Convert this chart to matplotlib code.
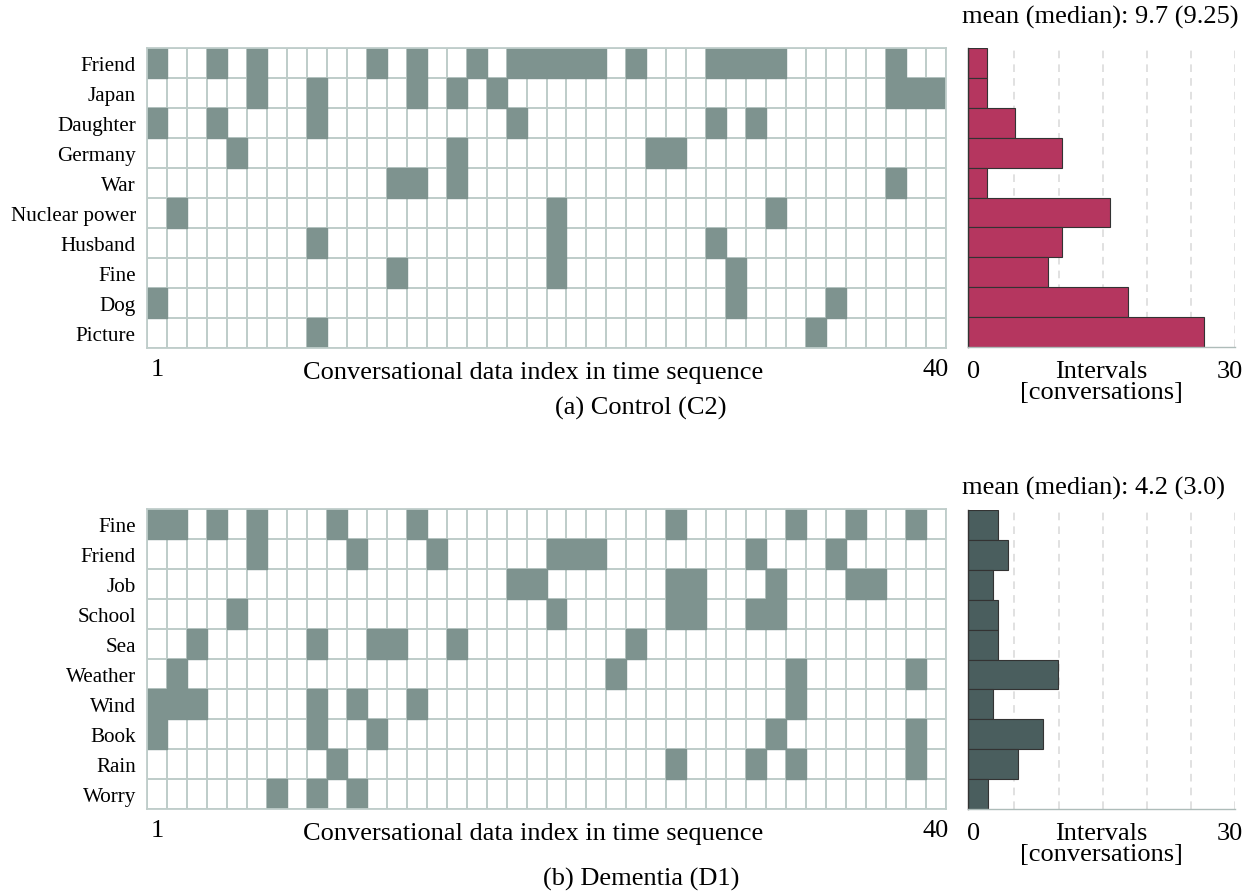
import numpy as np
import matplotlib
matplotlib.use("Agg")
import matplotlib.pyplot as plt
from matplotlib.colors import ListedColormap

plt.rcParams["font.family"] = ["Liberation Serif", "DejaVu Serif"]

# --------------------------
# Data (conversation indices where each topic appears)
# --------------------------

control_topics = ["Friend", "Japan", "Daughter", "Germany", "War",
                  "Nuclear power", "Husband", "Fine", "Dog", "Picture"]

control_events = [
    [1, 4, 6, 12, 14, 17, 19, 20, 21, 22, 23, 25, 29, 30, 31, 32, 38],
    [6, 9, 14, 16, 18, 38, 39, 40],
    [1, 4, 9, 19, 29, 31],
    [5, 16, 26, 27],
    [13, 14, 16, 38],
    [2, 21, 32],
    [9, 21, 29],
    [13, 21, 30],
    [1, 30, 35],
    [9, 34],
]

control_intervals = [2, 2, 5, 10, 2, 15, 10, 8.5, 17, 25]
control_stats = "mean (median): 9.7 (9.25)"

dementia_topics = ["Fine", "Friend", "Job", "School", "Sea",
                   "Weather", "Wind", "Book", "Rain", "Worry"]

dementia_events = [
    [1, 2, 4, 6, 10, 14, 27, 33, 36, 39],
    [6, 11, 15, 21, 22, 23, 31, 35],
    [19, 20, 27, 28, 32, 36, 37],
    [5, 21, 27, 28, 31, 32],
    [3, 9, 12, 13, 16, 25],
    [2, 24, 33, 39],
    [1, 2, 3, 9, 11, 14, 33],
    [1, 9, 12, 32, 39],
    [10, 27, 31, 33, 39],
    [7, 9, 11],
]

dementia_intervals = [3, 4, 2.5, 3, 3, 9, 2.5, 7.5, 5, 2]
dementia_stats = "mean (median): 4.2 (3.0)"

n_conv = 40

W, H = 1254, 895

cell_color = "#7e938f"
line_color = "#bfcdca"
fs = 19


def fig_rect(x0, y0, x1, y1):
    return [x0 / W, 1 - y1 / H, (x1 - x0) / W, (y1 - y0) / H]


def draw_grid(ax, topics, events, caption, cap_y):

    xs = np.arange(n_conv + 1)
    ys = np.arange(len(topics) + 1)

    # empty grid
    ax.pcolormesh(
        xs, ys, np.zeros((len(topics), n_conv)),
        cmap=ListedColormap(["white"]),
        edgecolors=line_color,
        linewidth=1.3
    )

    # filled cells (edges in same colour so neighbours merge)
    for r, ev in enumerate(events):
        ax.bar(
            np.array(ev) - 0.5,
            1.0,
            bottom=r,
            width=1.0,
            color=cell_color,
            edgecolor=cell_color,
            linewidth=1.0,
            zorder=3
        )

    ax.set_xlim(0, n_conv)
    ax.set_ylim(len(topics), 0)

    ax.set_yticks(np.arange(len(topics)) + 0.5)
    ax.set_yticklabels(topics, fontsize=15.2)
    ax.tick_params(axis="y", length=0, pad=8)

    ax.set_xticks([0.5, n_conv - 0.5])
    ax.set_xticklabels(["1", str(n_conv)], fontsize=fs)
    ax.tick_params(axis="x", length=0, pad=7)

    for s in ax.spines.values():
        s.set_color(line_color)
        s.set_linewidth(1.3)
        s.set_zorder(4)

    ax.text(0.483, -0.08, "Conversational data index in time sequence",
            transform=ax.transAxes, ha="center", va="center",
            fontsize=fs)

    fig.text(641 / W, 1 - cap_y / H, caption,
             ha="center", va="center", fontsize=fs)


def draw_hist(ax, values, color, stats, stats_y, xmax):

    y = np.arange(len(values)) + 0.5

    for gx in [0.174, 0.339, 0.504, 0.669, 0.834, 1.0]:
        ax.axvline(gx * xmax, color="#d9d9d9", linestyle=(0, (5, 4)),
                   linewidth=1.1, zorder=0)

    ax.barh(
        y,
        values,
        height=1.0,
        color=color,
        edgecolor="#333333",
        linewidth=0.8,
        zorder=2
    )

    ax.set_xlim(0, xmax)
    ax.set_ylim(len(values), 0)
    ax.set_xticks([])
    ax.set_yticks([])

    ax.spines["top"].set_visible(False)
    ax.spines["right"].set_visible(False)
    ax.spines["left"].set_color("#333333")
    ax.spines["left"].set_linewidth(1.0)
    ax.spines["bottom"].set_color("#aebcb9")
    ax.spines["bottom"].set_linewidth(1.0)

    ax.text(0.022, -0.08, "0", transform=ax.transAxes,
            ha="center", va="center", fontsize=fs)
    ax.text(0.98, -0.08, "30", transform=ax.transAxes,
            ha="center", va="center", fontsize=fs)
    ax.text(0.5, -0.08, "Intervals", transform=ax.transAxes,
            ha="center", va="center", fontsize=fs)
    ax.text(0.5, -0.15, "[conversations]", transform=ax.transAxes,
            ha="center", va="center", fontsize=fs)
    fig.text(962 / W, 1 - stats_y / H, stats,
             ha="left", va="center", fontsize=fs)


fig = plt.figure(figsize=(W / 100, H / 100), dpi=100)

ax_c = fig.add_axes(fig_rect(147, 49, 946, 349))
ax_ch = fig.add_axes(fig_rect(968, 49, 1235, 348))
ax_d = fig.add_axes(fig_rect(147, 510, 946, 810))
ax_dh = fig.add_axes(fig_rect(968, 511, 1235, 810))

draw_grid(ax_c, control_topics, control_events, "(a) Control (C2)", 408)
draw_grid(ax_d, dementia_topics, dementia_events, "(b) Dementia (D1)", 879)

draw_hist(ax_ch, control_intervals, "#b5365f", control_stats, 17, 28.3)
draw_hist(ax_dh, dementia_intervals, "#4a5e5e", dementia_stats, 488, 26.7)

fig.savefig("out.png", dpi=100)
